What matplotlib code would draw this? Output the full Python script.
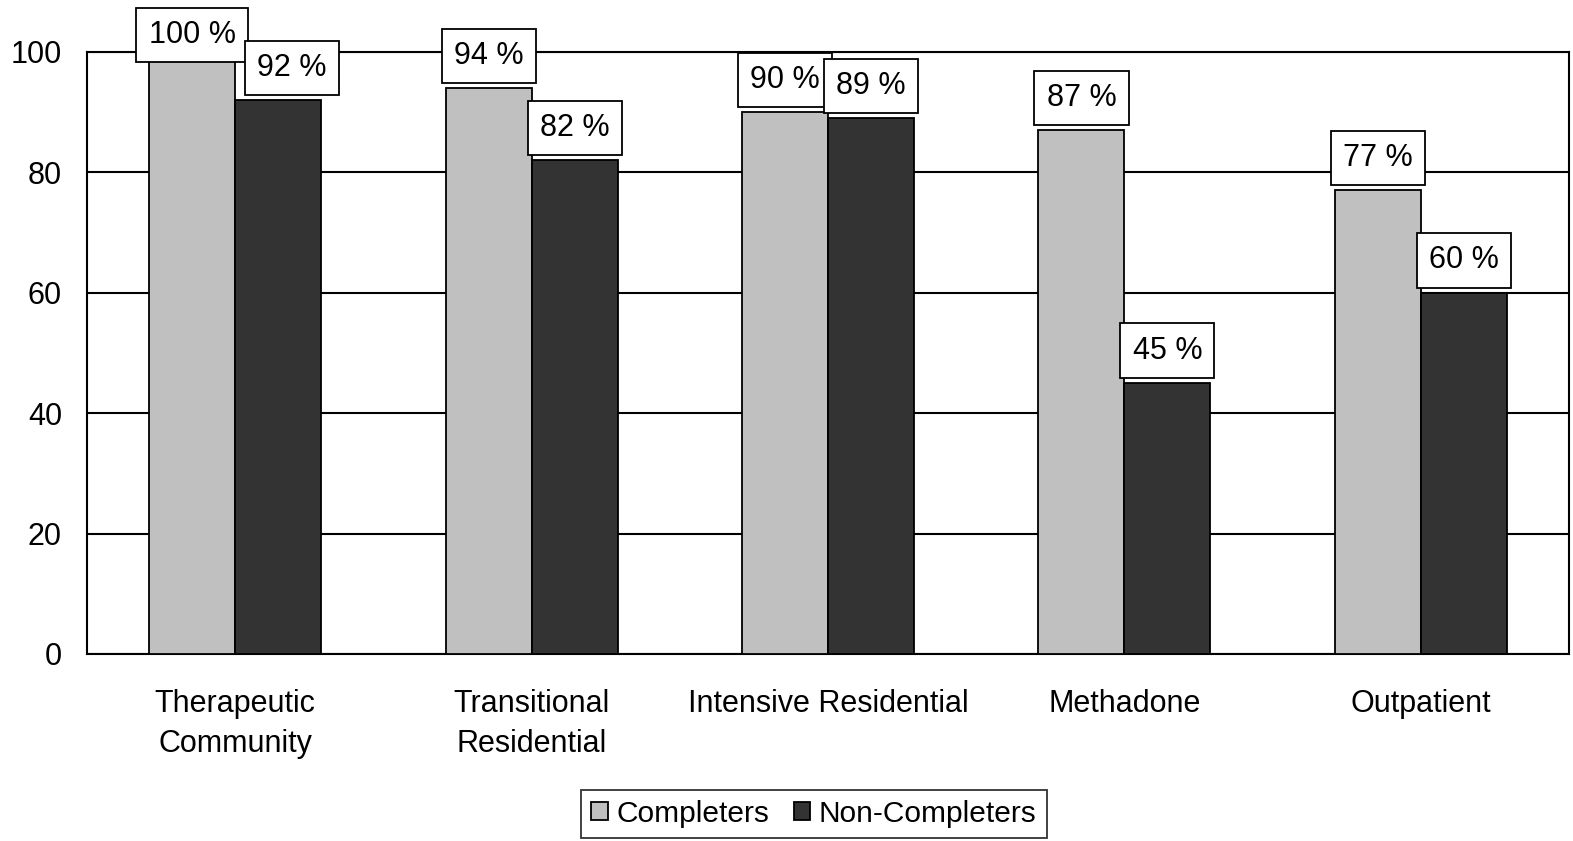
import matplotlib.pyplot as plt
import numpy as np

plt.rcParams['font.family'] = ['Liberation Sans', 'DejaVu Sans']

# data
programs = ["Therapeutic\nCommunity", "Transitional\nResidential", "Intensive Residential",
            "Methadone", "Outpatient"]
completers = [100, 94, 90, 87, 77]
non_completers = [92, 82, 89, 45, 60]
series_names = ["Completers", "Non-Completers"]

farger = ["#c0c0c0", "#333333"]
bredd = 0.29

fig = plt.figure(figsize=(15.73, 8.41), dpi=100)
ax = fig.add_axes([0.0553, 0.2224, 0.9422, 0.7158])

x = np.arange(len(programs))
ax.bar(x - bredd / 2, completers, bredd, color=farger[0], edgecolor="black",
       linewidth=1.3, label=series_names[0], zorder=3)
ax.bar(x + bredd / 2, non_completers, bredd, color=farger[1], edgecolor="black",
       linewidth=1.3, label=series_names[1], zorder=3)

ax.set_xlim(-0.5, len(programs) - 0.5)
ax.set_ylim(0, 100)
ax.set_yticks([0, 20, 40, 60, 80, 100])
ax.yaxis.grid(True, color="black", linewidth=1.5, zorder=0)
ax.set_axisbelow(True)
ax.set_xticks(x)
ax.set_xticklabels(programs, fontsize=22, linespacing=1.45)
ax.tick_params(axis="both", length=0, labelsize=22)
ax.tick_params(axis="x", pad=25)
ax.tick_params(axis="y", pad=18)
for s in ax.spines.values():
    s.set_linewidth(1.5)

# etiketter i lådor ovanför staplarna
def etikett(xpos, v, dx=0):
    off = 12.5 if v < 99 else 1.6
    ax.annotate(f"{v} %", (xpos, v), xytext=(dx, off), textcoords="offset points",
                ha="center", va="bottom", fontsize=22, clip_on=False, zorder=5,
                bbox=dict(boxstyle="square,pad=0.4", fc="white", ec="black", lw=1.3))

for i in range(len(programs)):
    etikett(x[i] - bredd / 2, completers[i])
    etikett(x[i] + bredd / 2, non_completers[i], dx=10 if i == 0 else 0)

leg = ax.legend(loc="center", bbox_to_anchor=(814 / 1573, 1 - 814 / 841),
                bbox_transform=fig.transFigure, ncol=2, fontsize=21.5, frameon=True,
                fancybox=False, edgecolor="black", handlelength=0.55, handleheight=0.55,
                handletextpad=0.3, columnspacing=0.8, borderpad=0.35)
leg.get_frame().set_linewidth(1.3)

fig.savefig("out.png", dpi=100)
